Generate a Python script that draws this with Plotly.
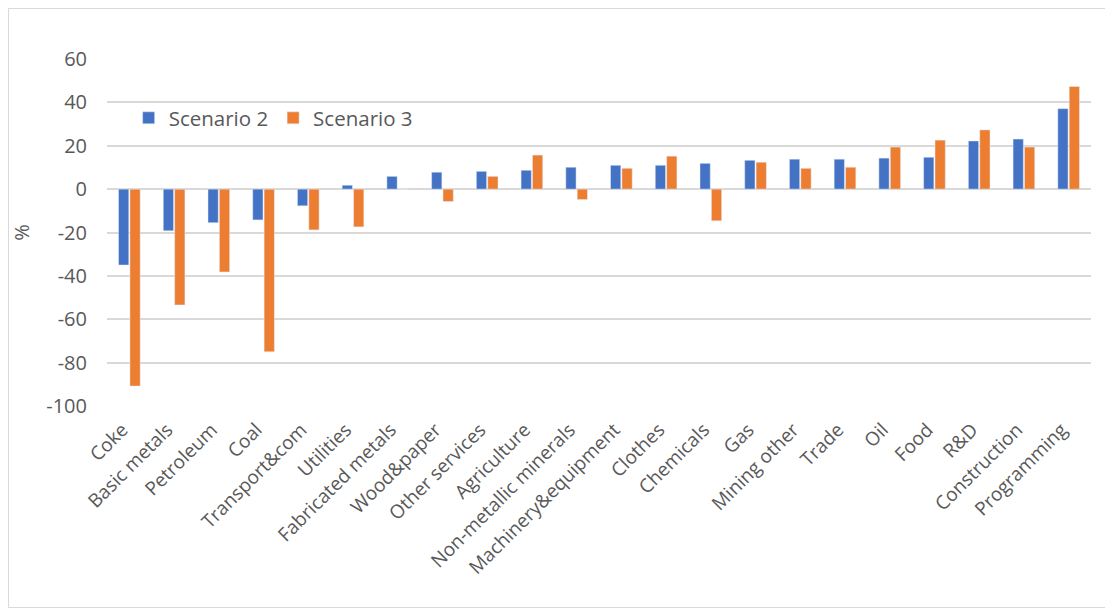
from plotly import graph_objects as go

# Categorie e valori (%)
sectors = ["Coke", "Basic metals", "Petroleum", "Coal", "Transport&com", "Utilities",
           "Fabricated metals", "Wood&paper", "Other services", "Agriculture",
           "Non-metallic minerals", "Machinery&equipment", "Clothes", "Chemicals", "Gas",
           "Mining other", "Trade", "Oil", "Food", "R&D", "Construction", "Programming"]

scenario2 = [-35.0, -19.2, -15.5, -14.2, -7.7, 1.8, 5.9, 7.8, 8.2, 8.7, 10.1, 11.0, 11.0,
             11.9, 13.3, 13.8, 13.8, 14.3, 14.7, 22.2, 23.1, 37.1]
scenario3 = [-90.8, -53.4, -38.2, -75.0, -18.8, -17.4, 0.0, -5.7, 5.9, 15.7, -4.8, 9.6, 15.2,
             -14.6, 12.4, 9.6, 10.1, 19.4, 22.6, 27.3, 19.4, 47.3]

ytick_vals = [-100, -80, -60, -40, -20, 0, 20, 40, 60]
ytick_text = [str(v) for v in ytick_vals]  # trattino semplice, come in Excel

FONT = "Open Sans"
GREY_TXT = "#595959"
GRID = "#D9D9D9"

fig = go.Figure()
fig.add_trace(go.Bar(x=sectors, y=scenario2, name="Scenario 2", marker_color="#4472C4"))
fig.add_trace(go.Bar(x=sectors, y=scenario3, name="Scenario 3", marker_color="#ED7D31"))

# la pagina ha 8px di margine sul body: figura un po' piu' piccola
fig.update_layout(
    width=1105,
    height=600,
    margin=dict(l=99, r=22, t=51, b=202),
    paper_bgcolor="white",
    plot_bgcolor="white",
    font=dict(family=FONT, size=20, color=GREY_TXT),
    barmode="group",
    bargap=0.49,
    bargroupgap=0.1,
    showlegend=True,
    legend=dict(
        orientation="h",
        x=0.022, y=0.83,
        xanchor="left", yanchor="middle",
        bgcolor="rgba(0,0,0,0)",
        font=dict(family=FONT, size=20.5, color=GREY_TXT),
        itemwidth=30,
    ),
    xaxis=dict(
        tickangle=-45,
        showgrid=False,
        showline=False,
        zeroline=False,
        automargin=False,
        ticklabelstandoff=8,
        ticklabelshift=-7,
        tickfont=dict(family=FONT, size=19, color=GREY_TXT),
    ),
    yaxis=dict(
        range=[-100, 60],
        tickvals=ytick_vals,
        ticktext=ytick_text,
        showgrid=True,
        gridcolor=GRID,
        gridwidth=1.5,
        zeroline=True,
        zerolinecolor=GRID,
        zerolinewidth=1.5,
        showline=False,
        automargin=False,
        ticklabelstandoff=19,
        tickfont=dict(family=FONT, size=20, color=GREY_TXT),
        title=dict(text="%", font=dict(family=FONT, size=20, color=GREY_TXT), standoff=24),
    ),
)

# Bordo grigio attorno al grafico
fig.add_shape(
    type="rect", xref="paper", yref="paper",
    x0=-0.1001, x1=1.0219, y0=-0.5807, y1=1.1455,
    line=dict(color=GRID, width=1), fillcolor="rgba(0,0,0,0)", layer="below",
)

fig.write_html("out.html")
